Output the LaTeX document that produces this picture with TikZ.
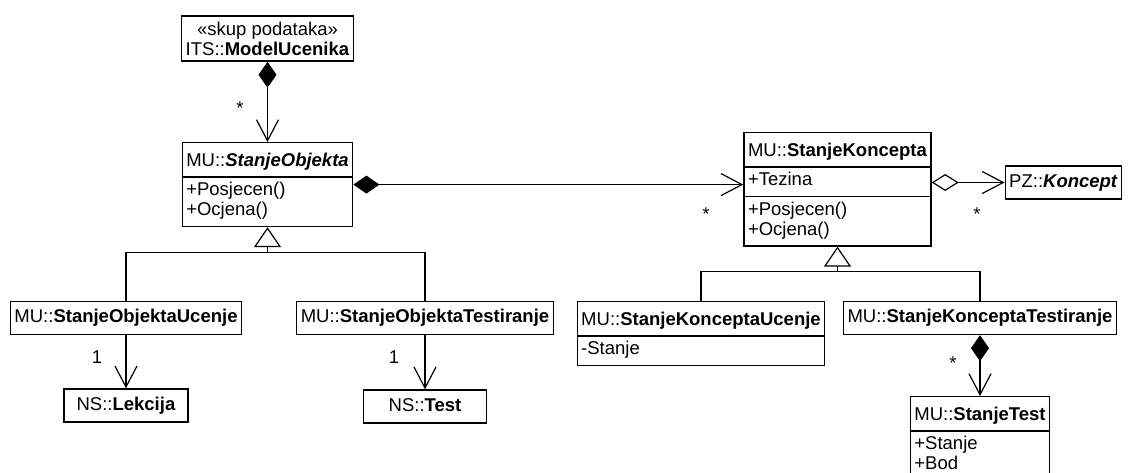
\documentclass[tikz,border=0pt]{standalone}
\usepackage{fontspec}
\setmainfont{Liberation Sans}
\usepackage{tikz}
\usetikzlibrary{arrows.meta, shapes.multipart}

\newcommand{\hd}{\rule[-6pt]{0pt}{25pt}}
\newcommand{\rws}[1]{\begin{tabular}{@{}l@{}}#1\end{tabular}}

\tikzset{
  cls/.style={draw, line width=1.4pt, inner xsep=4pt, inner ysep=7.75pt,
    text height=13.5pt, text depth=4pt},
  clsplit/.style={draw, line width=1.4pt, rectangle split,
    rectangle split parts=#1, rectangle split part align={center,left,left},
    inner xsep=4pt, inner ysep=4pt},
  conn/.style={line width=1.2pt},
  barb/.tip={Straight Barb[length=21pt,width=22pt]},
  comp/.tip={Diamond[length=26pt,width=18pt]},
  aggr/.tip={Diamond[open,length=27pt,width=17pt]},
  gen/.tip={Triangle[open,length=20pt,width=27pt]}
}

\begin{document}
\begin{tikzpicture}[x=1pt, y=-1pt, font=\fontsize{18.5}{20}\selectfont]
    \useasboundingbox (0,0) rectangle (1130,473);

    \node[draw, line width=1.4pt, align=center, inner xsep=4pt, inner ysep=5.8pt] (mu) at (267.5,38.5)
        {«skup podataka»\\ITS::\textbf{ModelUcenika}};
    \node[clsplit=2, anchor=north] (so) at (267.5,142)
        {\hd MU::\textbf{\textit{StanjeObjekta}} \nodepart{two} \rws{+Posjecen()\\+Ocjena()}};
    \node[clsplit=3, anchor=north] (sk) at (837.5,132)
        {\hd MU::\textbf{StanjeKoncepta} \nodepart{two} \rws{+Tezina} \nodepart{three} \rws{+Posjecen()\\+Ocjena()}};
    \node[cls] (kon) at (1063.5,182.5) {PZ::\textbf{\textit{Koncept}}};

    \node[cls] (lu) at (126,318) {MU::\textbf{StanjeObjektaUcenje}};
    \node[cls] (lt) at (425,318) {MU::\textbf{StanjeObjektaTestiranje}};
    \node[cls, minimum width=124pt] (lek) at (126,405.5) {NS::\textbf{Lekcija}};
    \node[cls, minimum width=123pt] (tst) at (425,406.5) {NS::\textbf{Test}};

    \node[clsplit=2, anchor=north] (ku) at (701,301)
        {\hd MU::\textbf{StanjeKonceptaUcenje} \nodepart{two} \rws{-Stanje}};
    \node[cls] (kt) at (980,318) {MU::\textbf{StanjeKonceptaTestiranje}};
    \node[clsplit=2, anchor=north] (st) at (980,396)
        {\hd MU::\textbf{StanjeTest} \nodepart{two} \rws{+Stanje\\+Bod}};

    \coordinate (gso) at ([yshift=-25pt]so.south);
    \coordinate (gsk) at ([yshift=-25pt]sk.south);
    \draw[conn] (lu.north) |- (gso) -| (lt.north);
    \draw[conn, -gen] (gso) -- (so.south);
    \draw[conn] (ku.north) |- (gsk) -| (kt.north);
    \draw[conn, -gen] (gsk) -- (sk.south);

    \draw[conn, comp-barb] (mu.south) -- (so.north);
    \draw[conn, comp-barb] (so.east) -- (so.east -| sk.west);
    \draw[conn, aggr-barb] (sk.east |- kon.west) -- (kon.west);
    \draw[conn, comp-barb] (kt.south) -- (st.north);
    \draw[conn, -barb] (lu.south) -- (lek.north);
    \draw[conn, -barb] (lt.south) -- (tst.north);

    \foreach \x/\y/\txt [count=\i] in {
        240/115/*,
        706/221/*,
        977/221/*,
        953/369/*,
        97/363/1,
        394/363/1
    }{
        \node[anchor=base, inner sep=0pt] (lbl\i) at (\x,\y) {\txt};
    }
\end{tikzpicture}
\end{document}
